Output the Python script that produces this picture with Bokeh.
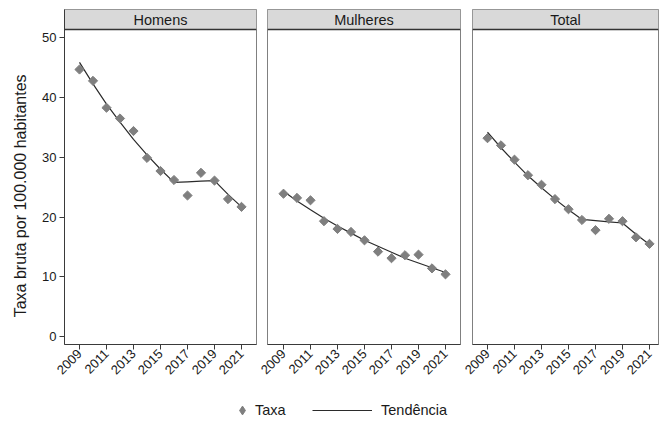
from bokeh.plotting import figure
from bokeh.models import (Range1d, FixedTicker, BoxAnnotation, Span, Label,
                          ColumnDataSource, Legend, LegendItem)
from bokeh.layouts import row, column
from bokeh.embed import file_html
from bokeh.resources import INLINE
import math

years = [2009, 2010, 2011, 2012, 2013, 2014, 2015, 2016, 2017, 2018, 2019, 2020, 2021]
homens_taxa = [44.7, 42.8, 38.3, 36.5, 34.4, 29.9, 27.7, 26.2, 23.6, 27.4, 26.1, 23.0, 21.7]
homens_tend = [45.9, 42.3, 38.9, 35.9, 33.0, 30.4, 28.0, 25.8, 25.9, 26.0, 26.1, 23.8, 21.7]
mulheres_taxa = [23.9, 23.2, 22.8, 19.3, 18.0, 17.5, 16.1, 14.2, 13.1, 13.6, 13.7, 11.4, 10.4]
mulheres_tend = [24.3, 22.7, 21.2, 19.8, 18.5, 17.3, 16.1, 15.1, 14.1, 13.1, 12.3, 11.5, 10.7]
total_taxa = [33.2, 32.0, 29.6, 27.0, 25.4, 23.0, 21.3, 19.5, 17.8, 19.7, 19.3, 16.6, 15.5]
total_tend = [34.2, 31.6, 29.2, 26.9, 24.9, 23.0, 21.2, 19.6, 19.4, 19.2, 19.0, 17.1, 15.4]
panel_titles = ["Homens", "Mulheres", "Total"]
x_ticks = [2009, 2011, 2013, 2015, 2017, 2019, 2021]
y_ticks = [0, 10, 20, 30, 40, 50]
y_label = "Taxa bruta por 100.000 habitantes"
legend_labels = ["Taxa", "Tendência"]

FONT = "Liberation Sans"
MARK = "#7f7f7f"
LINE = "#2b2b2b"
AX = "#3a3a3a"
Y0, Y1 = -1.35, 54.75
HDR = 51.4
PX_PER_YEAR = 13.5
TOP_H = 390
LAB_W = 30

panels = [
    (panel_titles[0], homens_taxa, homens_tend, 192, 15, 64 - LAB_W, 2, True),
    (panel_titles[1], mulheres_taxa, mulheres_tend, 193, 16, 9, 2, False),
    (panel_titles[2], total_taxa, total_tend, 186, 15, 10, 1, False),
]

# narrow strip holding the y-axis title
lab = figure(width=LAB_W, height=TOP_H, output_backend="svg", toolbar_location=None,
             x_range=Range1d(0, LAB_W), y_range=Range1d(0, TOP_H),
             min_border=0, min_border_left=0, min_border_right=0,
             min_border_top=0, min_border_bottom=0)
lab.axis.visible = False
lab.grid.visible = False
lab.outline_line_color = None
lab.add_layout(Label(x=20, y=TOP_H - 217, text=y_label, angle=math.pi / 2,
                     text_align="center", text_baseline="middle", text_font=FONT,
                     text_font_size="16px", text_color="#1a1a1a"))

figs = [lab]
sources = []
for title, taxa, tend, fw, off, bl, br, show_y in panels:
    x0 = 2009 - off / PX_PER_YEAR
    x1 = x0 + fw / PX_PER_YEAR
    p = figure(frame_width=fw, frame_height=335, output_backend="svg",
               toolbar_location=None, x_range=Range1d(x0, x1), y_range=Range1d(Y0, Y1),
               min_border_left=bl, min_border_right=br, min_border_top=9,
               min_border_bottom=46)
    p.grid.visible = False
    p.outline_line_color = "#808080"
    p.outline_line_width = 1
    p.background_fill_color = "white"
    p.border_fill_color = "white"

    src = ColumnDataSource(dict(x=years, taxa=taxa, tend=tend))
    sources.append(src)
    p.line("x", "tend", source=src, line_color=LINE, line_width=1.2)
    p.scatter("x", "taxa", source=src, marker="square", size=6.5, angle=math.pi / 4,
              fill_color=MARK, line_color=MARK)

    p.add_layout(BoxAnnotation(bottom=HDR, fill_color="#d9d9d9", fill_alpha=1.0,
                               line_color=None, level="underlay"))
    p.add_layout(Span(location=HDR, dimension="width", line_color="#333333", line_width=1.3))
    p.add_layout(Label(x=(x0 + x1) / 2, y=(HDR + Y1) / 2, text=title, text_align="center",
                       text_baseline="middle", text_font=FONT, text_font_size="14.5px",
                       text_color="#1a1a1a"))

    xa = p.xaxis[0]
    xa.ticker = FixedTicker(ticks=x_ticks, minor_ticks=[])
    xa.major_label_orientation = math.pi / 4
    xa.major_label_text_font = FONT
    xa.major_label_text_font_size = "13px"
    xa.major_label_text_color = "#1a1a1a"
    xa.axis_line_color = AX
    xa.major_tick_line_color = AX
    xa.major_tick_out = 5
    xa.major_tick_in = 0
    xa.minor_tick_line_color = None
    xa.major_label_standoff = 2

    ya = p.yaxis[0]
    if show_y:
        ya.ticker = FixedTicker(ticks=y_ticks, minor_ticks=[])
        ya.major_label_text_font = FONT
        ya.major_label_text_font_size = "13px"
        ya.major_label_text_color = "#1a1a1a"
        ya.axis_line_color = AX
        ya.major_tick_line_color = AX
        ya.major_tick_out = 5
        ya.major_tick_in = 0
        ya.minor_tick_line_color = None
        ya.major_label_standoff = 3
    else:
        ya.visible = False
    figs.append(p)

leg = figure(width=659, height=31, output_backend="svg", toolbar_location=None,
             x_range=Range1d(0, 1), y_range=Range1d(0, 1),
             min_border=0, min_border_left=0, min_border_right=0,
             min_border_top=0, min_border_bottom=0)
leg.axis.visible = False
leg.grid.visible = False
leg.outline_line_color = None
# legend renderers reuse the panel data; it falls outside this strip's ranges
r_pts = leg.scatter("x", "taxa", source=sources[0], marker="diamond", size=9,
                    fill_color=MARK, line_color=MARK)
r_line = leg.line("x", "tend", source=sources[0], line_color=LINE, line_width=1.2)

for item, gw, gh, loc, standoff in [
        (LegendItem(label=legend_labels[0], renderers=[r_pts]), 22, 22, (231, 0), 2),
        (LegendItem(label=legend_labels[1], renderers=[r_line]), 60, 16, (312, 3), 9)]:
    lg = Legend(items=[item], location=loc, orientation="horizontal", glyph_width=gw,
                glyph_height=gh, label_height=16, label_standoff=standoff, padding=0,
                margin=0, border_line_color=None, background_fill_alpha=0,
                label_text_font=FONT, label_text_font_size="14.5px", label_text_color="#1a1a1a",
                spacing=0)
    leg.add_layout(lg, "center")

layout = column(row(*figs), leg)
open("out.html", "w").write(file_html(layout, INLINE))
